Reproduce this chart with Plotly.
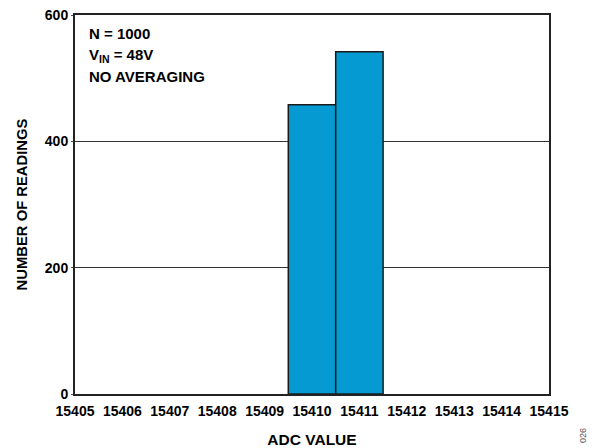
import plotly.graph_objects as go

# Histogram of ADC readings
adc_values = [15410, 15411]
counts = [458, 542]
x_ticks = list(range(15405, 15416))
y_ticks = [0, 200, 400, 600]

FONT = "Liberation Sans, Arial, sans-serif"

L, R, T, B = 75, 47, 15, 54
W, H = 596, 448
PW, PH = W - L - R, H - T - B

fig = go.Figure()
fig.add_trace(go.Bar(
    x=adc_values,
    y=counts,
    width=1,
    marker=dict(color="#059BD2", line=dict(color="#1a1a1a", width=1.5)),
))

fig.update_layout(
    width=W,
    height=H,
    margin=dict(l=L, r=R, t=T, b=B, autoexpand=False),
    paper_bgcolor="white",
    plot_bgcolor="white",
    showlegend=False,
    font=dict(family=FONT, size=14, color="black", weight="bold"),
    xaxis=dict(
        range=[15405, 15415],
        tickvals=x_ticks,
        ticktext=[str(v) for v in x_ticks],
        automargin=False,
        showgrid=False,
        zeroline=False,
        showline=True,
        linecolor="#222",
        linewidth=2,
        mirror=True,
        ticks="",
        ticklabelstandoff=3,
        tickfont=dict(size=14),
        title=dict(text="ADC VALUE", font=dict(size=15.5), standoff=20),
    ),
    yaxis=dict(
        range=[0, 600],
        tickvals=y_ticks,
        automargin=False,
        showgrid=True,
        gridcolor="#333",
        gridwidth=0.8,
        zeroline=False,
        showline=True,
        linecolor="#222",
        linewidth=2,
        mirror=True,
        ticks="outside",
        ticklen=2,
        tickcolor="#555",
        tickfont=dict(size=14),
        title=dict(text="NUMBER OF READINGS", font=dict(size=14.8), standoff=14),
    ),
)

notes = ["N = 1000", "V<sub>IN</sub> = 48V", "NO AVERAGING"]
note_px = [33, 56, 76]
for txt, py in zip(notes, note_px):
    fig.add_annotation(
        x=(87 - L) / PW, y=(H - B - py) / PH, xref="paper", yref="paper",
        text=txt, showarrow=False, xanchor="left", yanchor="middle",
        font=dict(size=15, family=FONT, weight="bold"),
    )

# figure number, rotated, bottom-right corner
fig.add_annotation(
    x=(583 - L) / PW, y=(H - B - 436) / PH, xref="paper", yref="paper",
    text="026", showarrow=False, textangle=-90,
    xanchor="center", yanchor="middle",
    font=dict(size=9, family=FONT, color="#555", weight="normal"),
)

fig.write_html("out.html")
